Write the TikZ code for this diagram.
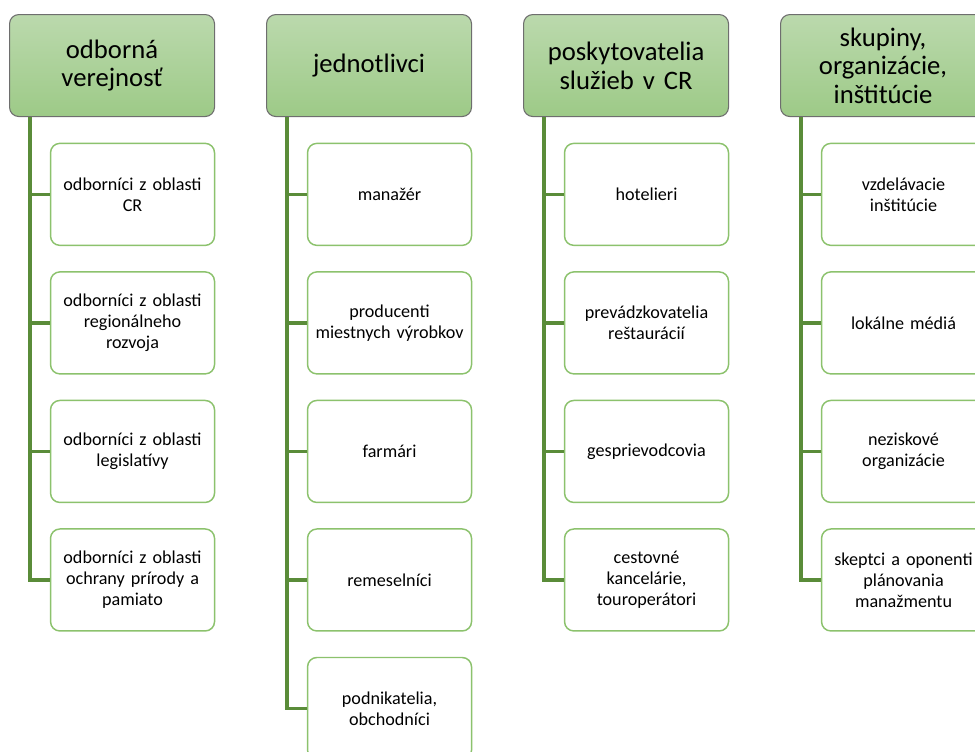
\documentclass[tikz,border=0pt]{standalone}
\usepackage{fontspec}
\setmainfont{Carlito}
\usetikzlibrary{calc,chains,positioning}

\definecolor{hdrtop}{HTML}{BBD9AD}
\definecolor{hdrbot}{HTML}{9DCA87}
\definecolor{hdrline}{HTML}{6E6E6E}
\definecolor{memline}{HTML}{8CC26D}
\definecolor{linkgreen}{HTML}{5A8C39}

\tikzset{
  header/.style={draw=hdrline,line width=0.8pt,rounded corners=7pt,
    top color=hdrtop,bottom color=hdrbot,anchor=north west,
    minimum width=153.75pt,minimum height=76.5pt,text width=150pt,
    align=center,inner sep=1pt,font=\fontsize{20}{21.5}\selectfont},
  member/.style={draw=memline,line width=1.1pt,rounded corners=7pt,fill=white,
    minimum width=123pt,minimum height=76.5pt,text width=121pt,
    align=center,inner sep=1pt,font=\fontsize{13.6}{15.8}\selectfont},
  link/.style={draw=linkgreen,line width=2.5pt}
}

\begin{document}
\begin{tikzpicture}[x=0.75pt,y=0.75pt]
\useasboundingbox (0,0) rectangle (975,-751);
\clip (0,0) rectangle (975,-751);

\def\heads{1/{odborná\\verejnosť},2/{jednotlivci},3/{poskytovatelia\\služieb v CR},4/{skupiny,\\organizácie,\\inštitúcie}}
\foreach \i / \element in \heads
  \node [header] (h\i) at ({9+(\i-1)*257},-14) {\element};

\begin{scope}[start chain=going below,node distance=18.8pt]
\coordinate [on chain] (t1) at ($(h1.south)+(20.5,-0.5)$);
\def\colA{1/{odborníci z oblasti\\CR},2/{odborníci z oblasti\\regionálneho\\rozvoja},3/{odborníci z oblasti\\legislatívy},4/{odborníci z oblasti\\ochrany prírody a\\pamiato}}
\foreach \j / \element in \colA {
  \node [member,on chain] (m1\j) {\element};
  \draw [link] ($(h1.south west)+(21,0)$) |- (m1\j.west);
}
\end{scope}

\begin{scope}[start chain=going below,node distance=18.8pt]
\coordinate [on chain] (t2) at ($(h2.south)+(20.5,-0.5)$);
\def\colB{1/{manažér},2/{producenti\\miestnych výrobkov},3/{farmári},4/{remeselníci},5/{podnikatelia,\\obchodníci}}
\foreach \j / \element in \colB {
  \node [member,on chain] (m2\j) {\element};
  \draw [link] ($(h2.south west)+(21,0)$) |- (m2\j.west);
}
\end{scope}

\begin{scope}[start chain=going below,node distance=18.8pt]
\coordinate [on chain] (t3) at ($(h3.south)+(20.5,-0.5)$);
\def\colC{1/{hotelieri},2/{prevádzkovatelia\\reštaurácií},3/{gesprievodcovia},4/{cestovné\\kancelárie,\\touroperátori}}
\foreach \j / \element in \colC {
  \node [member,on chain] (m3\j) {\element};
  \draw [link] ($(h3.south west)+(21,0)$) |- (m3\j.west);
}
\end{scope}

\begin{scope}[start chain=going below,node distance=18.8pt]
\coordinate [on chain] (t4) at ($(h4.south)+(20.5,-0.5)$);
\def\colD{1/{vzdelávacie\\inštitúcie},2/{lokálne médiá},3/{neziskové\\organizácie},4/{skeptci a oponenti\\plánovania\\manažmentu}}
\foreach \j / \element in \colD {
  \node [member,on chain] (m4\j) {\element};
  \draw [link] ($(h4.south west)+(21,0)$) |- (m4\j.west);
}
\end{scope}

\end{tikzpicture}
\end{document}
